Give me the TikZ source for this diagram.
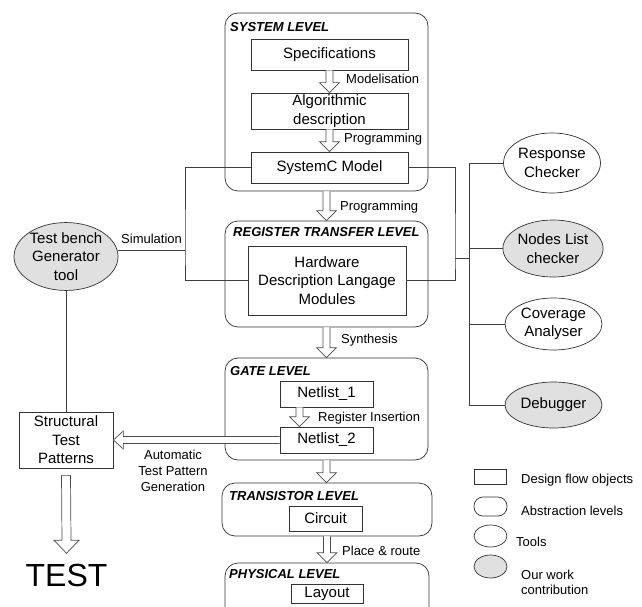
\documentclass[tikz,border=0pt]{standalone}
\usepackage{fontspec}
\setmainfont{Liberation Sans}
\usetikzlibrary{shapes}
\usetikzlibrary{positioning}
\usetikzlibrary{calc}

% hollow block arrow going down from #1 to the tip at #2
\newcommand{\flowarrow}[2]{%
	\path (#1) coordinate (fa-s) (#2) coordinate (fa-t);
	\draw[hollow arrow] ($(fa-s)+(-3.5,0)$) -- ($(fa-s |- fa-t)+(-3.5,-10)$) -- ($(fa-s |- fa-t)+(-10,-10)$) -- (fa-s |- fa-t) -- ($(fa-s |- fa-t)+(10,-10)$) -- ($(fa-s |- fa-t)+(3.5,-10)$) -- ($(fa-s)+(3.5,0)$);}

\begin{document}
\begin{tikzpicture}[x=1pt,y=-1pt,
	flow box/.style={rectangle,draw=black!80,line width=0.7pt,fill=white,align=center,inner sep=0pt,font=\fontsize{15}{18.5}\selectfont},
	level box/.style={rectangle,rounded corners=13pt,draw=black!80,line width=0.7pt},
	tool node/.style={ellipse,draw=black!80,line width=0.7pt,fill=white,align=center,inner sep=0pt,font=\fontsize{15}{18.5}\selectfont},
	our node/.style={tool node,fill=black!12},
	level title/.style={anchor=west,inner sep=0pt,text height=9.4pt,text depth=0pt,font=\fontsize{13}{15}\selectfont\bfseries\itshape},
	flow label/.style={anchor=west,inner sep=0pt,text height=9.4pt,text depth=0pt,font=\fontsize{13}{15}\selectfont},
	link/.style={draw=black!75,line width=0.7pt},
	hollow arrow/.style={draw=black!70,line width=0.7pt,fill=white}]
			
			\useasboundingbox (0,0) rectangle (642,607);
			\clip (0,0) rectangle (642,607);
			
			% abstraction levels
			\node[level box,minimum width=203pt,minimum height=178pt] at (326.5,102) (sys) {};
			\node[level box,minimum width=203pt,minimum height=106pt] at (326.5,274) (rtl) {};
			\node[level box,minimum width=203pt,minimum height=102pt] at (326.5,409) (gate) {};
			\node[level box,minimum width=210pt,minimum height=53pt] at (327,509.5) (trans) {};
			\node[level box,minimum width=204pt,minimum height=58pt] at (327,592) (phys) {};
			
			\node[level title] at (230,27) (sys title) {SYSTEM LEVEL};
			\node[level title] at (233,232) (rtl title) {REGISTER TRANSFER LEVEL};
			\node[level title] at (230,371) (gate title) {GATE LEVEL};
			\node[level title] at (229,496) (trans title) {TRANSISTOR LEVEL};
			\node[level title] at (229,574) (phys title) {PHYSICAL LEVEL};
			
			% design flow objects
			\node[flow box,minimum width=157pt,minimum height=31pt] at (329.5,54.5) (spec) {Specifications};
			\node[flow box,minimum width=157pt,minimum height=36pt] at (329.5,111) (algo) {Algorithmic\\description};
			\node[flow box,minimum width=157pt,minimum height=31pt] at (329.5,167.5) (sysc) {SystemC Model};
			\node[flow box,minimum width=158pt,minimum height=69pt] at (327,280.5) (hdl) {Hardware\\Description Langage\\Modules};
			\node[flow box,minimum width=93pt,minimum height=26pt] at (326.5,394) (net1) {Netlist\_1};
			\node[flow box,minimum width=93pt,minimum height=26pt] at (326.5,440) (net2) {Netlist\_2};
			\node[flow box,minimum width=73pt,minimum height=25pt] at (325.5,518.5) (circ) {Circuit};
			\node[flow box,minimum width=72pt,minimum height=19pt] at (327,593.5) (lay) {Layout};
			\node[flow box,minimum width=94pt,minimum height=56pt] at (66,440) (stp) {Structural\\Test\\Patterns};
			\node[inner sep=0pt,text height=23pt,text depth=0pt,font=\fontsize{32}{36}\selectfont] at (66.5,575) (test) {TEST};
			
			% tools
			\node[our node,minimum width=104pt,minimum height=67pt] at (66,256.5) (tbg) {Test bench\\Generator\\tool};
			\node[tool node,minimum width=97pt,minimum height=60pt] at (552,163) (resp) {Response\\Checker};
			\node[our node,minimum width=94pt,minimum height=57pt] at (553,248.5) (nlc) {Nodes List\\checker};
			\node[tool node,minimum width=97pt,minimum height=52pt] at (553.5,324) (cov) {Coverage\\Analyser};
			\node[our node,minimum width=97pt,minimum height=46pt] at (553.5,405) (dbg) {Debugger};
			
			% flow arrows
			\flowarrow{spec.south}{algo.north}
			\flowarrow{algo.south}{sysc.north}
			\flowarrow{sys.south}{rtl.north}
			\flowarrow{rtl.south}{gate.north}
			\flowarrow{$(net1.south)+(-27,0)$}{net2.north}
			\flowarrow{gate.south}{trans.north}
			\flowarrow{trans.south}{phys.north}
			
			\node[flow label] at (346,79) (l1) {Modelisation};
			\node[flow label] at (344,138) (l2) {Programming};
			\node[flow label] at (340,206) (l3) {Programming};
			\node[flow label] at (341,339) (l4) {Synthesis};
			\node[flow label] at (318,417) (l5) {Register Insertion};
			\node[flow label] at (342,551) (l6) {Place \& route};
			
			\draw[hollow arrow] ($(net2.west)+(0,-3.5)$) -- ($(stp.east)+(10,-3.5)$) -- ($(stp.east)+(10,-9)$) -- (stp.east) -- ($(stp.east)+(10,9)$) -- ($(stp.east)+(10,3.5)$) -- ($(net2.west)+(0,3.5)$);
			\node[align=center,inner sep=0pt,font=\fontsize{13}{16}\selectfont] at (173,471) (atpg) {Automatic\\Test Pattern\\Generation};
			
			\draw[hollow arrow] ($(stp.south)+(-4.5,7)$) -- ($(test.north)+(-4.5,-23)$) -- ($(test.north)+(-12.5,-23)$) -- ($(test.north)+(0,-10)$) -- ($(test.north)+(12.5,-23)$) -- ($(test.north)+(4.5,-23)$) -- ($(stp.south)+(4.5,7)$) -- cycle;
			
			% links to the tools
			\coordinate (simj) at (185,250);
			\coordinate (rj) at (455,258.5);
			\coordinate (bus) at (469,258.5);
			\draw[link] (sysc.west) -| (simj) |- (hdl.west);
			\draw[link] (tbg.east |- simj) -- (simj);
			\node[flow label] at (121,239) (sim) {Simulation};
			\draw[link] (sysc.east) -| (rj) |- (hdl.east);
			\draw[link] (rj) -- (bus);
			\draw[link] (resp.west) -| (bus);
			\draw[link] (dbg.west) -| (bus);
			\draw[link] (nlc.west) -- (nlc.west -| bus);
			\draw[link] (cov.west) -- (cov.west -| bus);
			\draw[link] (tbg.south) -- (stp.north);
			
			% legend
			\node[flow box,minimum width=32pt,minimum height=15pt] at (490,476.5) (leg box) {};
			\node[level box,rounded corners=9pt,minimum width=33pt,minimum height=19pt] at (490.5,506.5) (leg level) {};
			\node[tool node,minimum width=33pt,minimum height=22pt] at (490.5,536) (leg tool) {};
			\node[our node,minimum width=33pt,minimum height=23pt] at (490.5,566.5) (leg our) {};
			\node[flow label] at (521,479) (leg box text) {Design flow objects};
			\node[flow label] at (521,511) (leg level text) {Abstraction levels};
			\node[flow label] at (516,542) (leg tool text) {Tools};
			\node[anchor=west,align=left,inner sep=0pt,font=\fontsize{13}{15}\selectfont] at (521,582.5) (leg our text) {Our work\\contribution};
			
			\end{tikzpicture}
\end{document}
